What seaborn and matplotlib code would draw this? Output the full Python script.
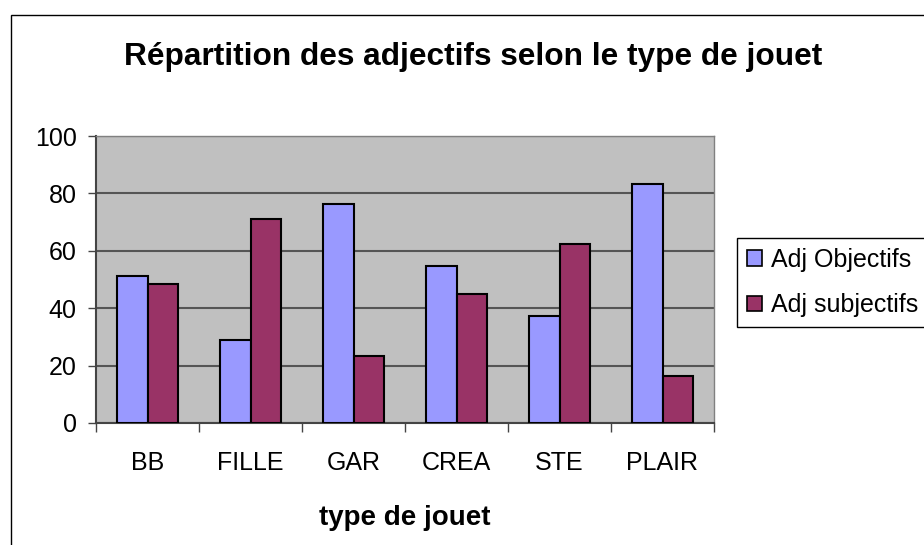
"""
Répartition des adjectifs selon le type de jouet - bar chart recreation.
"""

import pandas as pd
import matplotlib.pyplot as plt
import seaborn as sns
from matplotlib.patches import Rectangle

# Data
categories = ['BB', 'FILLE', 'GAR', 'CREA', 'STE', 'PLAIR']
adj_objectifs = [51.3, 28.9, 76.4, 54.8, 37.4, 83.4]
adj_subjectifs = [48.5, 71.0, 23.3, 45.1, 62.4, 16.5]
series_names = ['Adj Objectifs', 'Adj subjectifs']
y_ticks = [0, 20, 40, 60, 80, 100]

colors = ['#9999FF', '#993366']

sns.set_theme(style='white')
plt.rcParams['font.family'] = ['Liberation Sans', 'DejaVu Sans']
plt.rcParams['text.color'] = 'black'
plt.rcParams['xtick.color'] = 'black'
plt.rcParams['ytick.color'] = 'black'

df = pd.DataFrame({
    'type': categories * 2,
    'valeur': adj_objectifs + adj_subjectifs,
    'serie': [series_names[0]] * len(categories) + [series_names[1]] * len(categories),
})

fig = plt.figure(figsize=(9.24, 5.45), dpi=100)
ax = fig.add_axes([96 / 924, 1 - 423 / 545, 618 / 924, 287 / 545])
ax.set_facecolor('#C0C0C0')

sns.barplot(data=df, x='type', y='valeur', hue='serie', palette=colors,
            saturation=1, width=0.59, gap=0, edgecolor='black', linewidth=1.5,
            ax=ax, legend=False, zorder=3)

# Axis styling, Excel-like
ax.set_ylim(0, 100)
ax.set_yticks(y_ticks)
ax.set_xlim(-0.5, len(categories) - 0.5)
ax.yaxis.grid(True, color='#555555', linewidth=1.5, zorder=1)
ax.set_axisbelow(True)
for side in ['top', 'right']:
    ax.spines[side].set_color('#808080')
    ax.spines[side].set_linewidth(1)
for side in ['left', 'bottom']:
    ax.spines[side].set_color('#444444')
    ax.spines[side].set_linewidth(1.5)

ax.tick_params(axis='y', which='major', direction='out', length=6, width=1,
               color='#444444', labelcolor='black', labelsize=18, pad=8, left=True)
ax.set_xticks(range(len(categories)))
ax.set_xticklabels(categories)
ax.tick_params(axis='x', which='major', length=0, labelsize=18,
               labelcolor='black', pad=20)
ax.set_xticks([i - 0.5 for i in range(len(categories) + 1)], minor=True)
ax.tick_params(axis='x', which='minor', direction='out', length=6.5, width=1,
               color='#444444', bottom=True)

ax.set_ylabel('')
ax.set_xlabel('type de jouet', fontsize=20, fontweight='bold', color='black')
ax.xaxis.set_label_coords(0.5, -(505 - 423) / 287)

fig.text(473 / 924, 1 - 65 / 545, 'Répartition des adjectifs selon le type de jouet',
         ha='center', va='baseline', fontsize=22.8, fontweight='bold')

# Legend
handles = [Rectangle((0, 0), 1, 1, facecolor=c, edgecolor='black', linewidth=1.2)
           for c in colors]
fig.legend(handles, series_names, loc='upper left',
           bbox_to_anchor=(737 / 924, 1 - 238 / 545), fontsize=18,
           frameon=True, fancybox=False, framealpha=1, edgecolor='black',
           handlelength=0.6, handleheight=0.6, handletextpad=0.35,
           borderpad=0.4, labelspacing=0.85, borderaxespad=0)

# Outer chart frame (right and bottom edges fall outside the picture)
fig.patches.append(Rectangle((11 / 924, -0.1), 1.2, 1 - 15 / 545 + 0.1,
                             transform=fig.transFigure, fill=False,
                             edgecolor='black', linewidth=1))

fig.savefig('out.png', dpi=100)
plt.close(fig)
